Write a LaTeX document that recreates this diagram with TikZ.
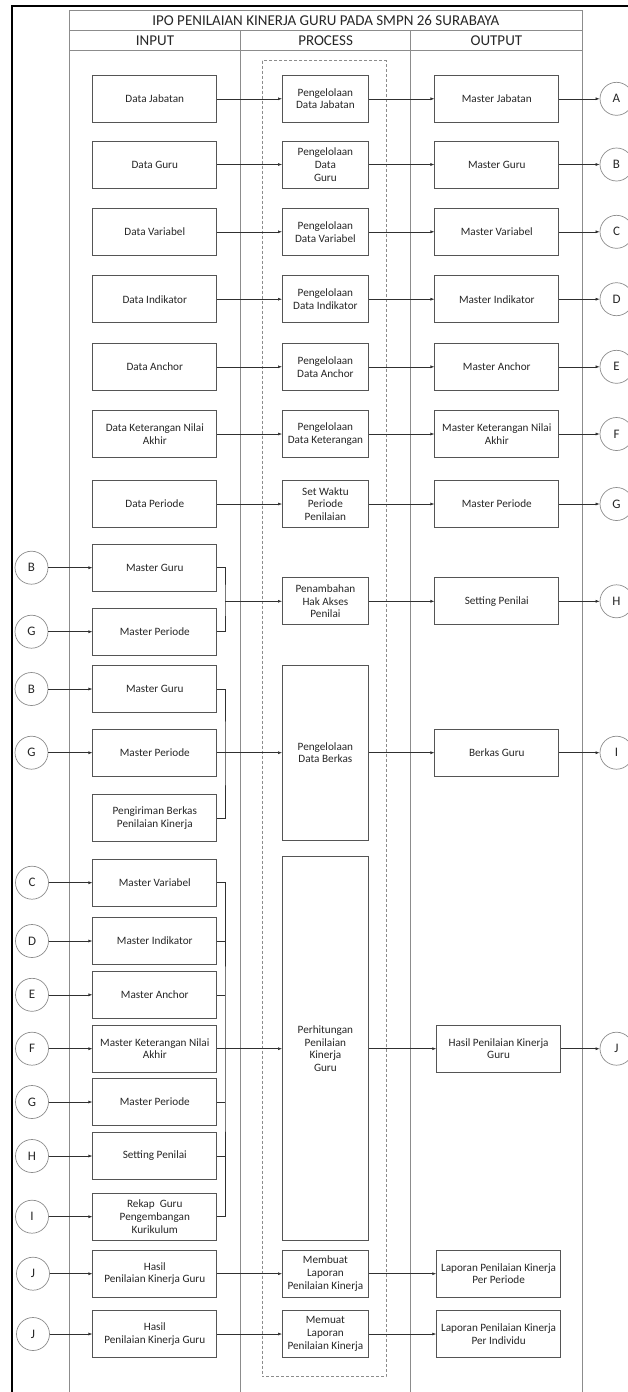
\documentclass[tikz,border=0pt]{standalone}
\usepackage{fontspec}
\setmainfont{Carlito}
\usetikzlibrary{arrows.meta}
\definecolor{tblgray}{HTML}{8C8C8C}
\definecolor{boxgray}{HTML}{555555}
\definecolor{linegray}{HTML}{303030}
\definecolor{txtgray}{HTML}{262626}
\tikzset{
  inbox/.style={draw=boxgray,line width=0.7pt,minimum width=124pt,minimum height=47pt,
    inner sep=1pt,align=center,text=txtgray,font=\fontsize{11.2}{12.7}\selectfont},
  procbox/.style={inbox,minimum width=86pt},
  conn/.style={circle,draw=tblgray,line width=0.7pt,minimum size=33pt,inner sep=0pt,
    text=txtgray,font=\fontsize{13}{14}\selectfont},
  headtxt/.style={text=txtgray,font=\fontsize{15}{16}\selectfont},
  flow/.style={draw=linegray,line width=0.6pt,-{Latex[length=4pt,width=3pt]}},
  link/.style={draw=linegray,line width=0.6pt},
  tbl/.style={draw=tblgray,line width=0.8pt}
}

\begin{document}
\begin{tikzpicture}[x=1pt,y=-1pt]
     \useasboundingbox (0,0) rectangle (627,1392);
     \draw[tbl] (69.6,10) rectangle (582,1400);
     \draw[tbl] (69.6,30.7) -- (582,30.7);
     \draw[tbl] (69.6,50.7) -- (582,50.7);
     \draw[tbl] (240.4,30.7) -- (240.4,1400);
     \draw[tbl] (410.8,30.7) -- (410.8,1400);
     \draw[tbl,line width=0.6pt,dash pattern=on 3pt off 2pt] (262,60.7) rectangle (386,1376.7);
     \draw[black,line width=2pt] (12,1400) -- (12,6) -- (640,6);
     \node[headtxt] (title) at (325.8,20.5) {IPO PENILAIAN KINERJA GURU PADA SMPN 26 SURABAYA};
     \node[headtxt] (hin)   at (155,40.8)   {INPUT};
     \node[headtxt] (hpro)  at (325.6,40.8) {PROCESS};
     \node[headtxt] (hout)  at (496.4,40.8) {OUTPUT};
     \foreach \i/\y/\din/\dpro/\dout/\lt in {
       1/98.8/{Data Jabatan}/{Pengelolaan\\Data Jabatan}/{Master Jabatan}/A,
       2/164.5/{Data Guru}/{Pengelolaan\\Data\\Guru}/{Master Guru}/B,
       3/231.8/{Data Variabel}/{Pengelolaan\\Data Variabel}/{Master Variabel}/C,
       4/299.2/{Data Indikator}/{Pengelolaan\\Data Indikator}/{Master Indikator}/D,
       5/366.8/{Data Anchor}/{Pengelolaan\\Data Anchor}/{Master Anchor}/E,
       6/434/{Data Keterangan Nilai\\Akhir}/{Pengelolaan\\Data Keterangan}/{Master Keterangan Nilai\\Akhir}/F,
       7/504/{Data Periode}/{Set Waktu\\Periode\\Penilaian}/{Master Periode}/G} {
      \node[inbox]   (in\i)  at (154.8,\y) {\din};
      \node[procbox] (pro\i) at (325.4,\y) {\dpro};
      \node[inbox]   (out\i) at (496.8,\y) {\dout};
      \node[conn]    (r\i)   at (616.5,\y) {\lt};
      \draw[flow] (in\i.east) -- (pro\i.west);
      \draw[flow] (pro\i.east) -- (out\i.west);
      \draw[flow] (out\i.east) -- (r\i.west);
     }
     % hak akses
     \node[inbox]   (mguru1) at (154.8,567.7) {Master Guru};
     \node[inbox]   (mper1)  at (154.8,631.7) {Master Periode};
     \node[procbox] (hak)    at (325.4,601.3) {Penambahan\\Hak Akses\\Penilai};
     \node[inbox]   (setpen) at (496.8,601.3) {Setting Penilai};
     \node[conn] (lb1) at (31.5,567.7) {B};
     \node[conn] (lg1) at (31.5,631.7) {G};
     \node[conn] (rh)  at (616.5,601.3) {H};
     \coordinate (j1) at (225,601.3);
     \draw[flow] (lb1.east) -- (mguru1.west);
     \draw[flow] (lg1.east) -- (mper1.west);
     \draw[link] (mguru1.east) -| (j1) |- (mper1.east);
     \draw[flow] (j1) -- (hak.west);
     \draw[flow] (hak.east) -- (setpen.west);
     \draw[flow] (setpen.east) -- (rh.west);
     % berkas
     \node[inbox] (mguru2) at (154.8,689) {Master Guru};
     \node[inbox] (mper2)  at (154.8,752.7) {Master Periode};
     \node[inbox] (kirim)  at (154.8,817.8) {Pengiriman Berkas\\Penilaian Kinerja};
     \node[procbox,minimum height=174.7pt] (berkas) at (325.4,752.7) {Pengelolaan\\Data Berkas};
     \node[inbox] (bguru)  at (496.8,752.7) {Berkas Guru};
     \node[conn] (lb2) at (31.5,689) {B};
     \node[conn] (lg2) at (31.5,752.7) {G};
     \node[conn] (ri)  at (616.5,752.7) {I};
     \coordinate (j2) at (225,752.7);
     \draw[flow] (lb2.east) -- (mguru2.west);
     \draw[flow] (lg2.east) -- (mper2.west);
     \draw[link] (mguru2.east) -| (j2) |- (kirim.east);
     \draw[flow] (mper2.east) -- (berkas.west);
     \draw[flow] (berkas.east) -- (bguru.west);
     \draw[flow] (bguru.east) -- (ri.west);
     % perhitungan
     \foreach \n/\y/\txt/\lt in {
       mvar/882.7/{Master Variabel}/C,
       mind/941/{Master Indikator}/D,
       manc/994.8/{Master Anchor}/E,
       mket/1048.7/{Master Keterangan Nilai\\Akhir}/F,
       mper3/1102/{Master Periode}/G,
       mset/1156/{Setting Penilai}/H,
       rekap/1216.7/{Rekap~ Guru\\Pengembangan\\Kurikulum}/I} {
      \node[inbox] (\n) at (154.8,\y) {\txt};
      \node[conn] (l\n) at (32,\y) {\lt};
      \draw[flow] (l\n.east) -- (\n.west);
     }
     \node[procbox,minimum height=384pt] (hitung) at (325.4,1048.7) {Perhitungan\\Penilaian\\Kinerja\\Guru};
     \node[inbox] (hasil) at (498.6,1048.7) {Hasil Penilaian Kinerja\\Guru};
     \node[conn] (rj) at (616.5,1048.7) {J};
     \coordinate (j3) at (225,1048.7);
     \draw[link] (mvar.east) -| (j3) |- (rekap.east);
     \foreach \n in {mind,manc,mper3,mset}
       \draw[link] (\n.east) -- (\n.east -| j3);
     \draw[flow] (mket.east) -- (hitung.west);
     \draw[flow] (hitung.east) -- (hasil.west);
     \draw[flow] (hasil.east) -- (rj.west);
     % laporan
     \foreach \i/\y/\dpro/\dout in {
       1/1273.7/{Membuat\\Laporan\\Penilaian Kinerja}/{Laporan Penilaian Kinerja\\Per Periode},
       2/1334/{Memuat\\Laporan\\Penilaian Kinerja}/{Laporan Penilaian Kinerja\\Per Individu}} {
      \node[conn]    (lj\i)  at (33,\y) {J};
      \node[inbox]   (hsl\i) at (154.8,\y) {Hasil\\Penilaian Kinerja Guru};
      \node[procbox] (lap\i) at (325.4,\y) {\dpro};
      \node[inbox]   (rep\i) at (498.6,\y) {\dout};
      \draw[flow] (lj\i.east) -- (hsl\i.west);
      \draw[flow] (hsl\i.east) -- (lap\i.west);
      \draw[flow] (lap\i.east) -- (rep\i.west);
     }
    \end{tikzpicture}
\end{document}
